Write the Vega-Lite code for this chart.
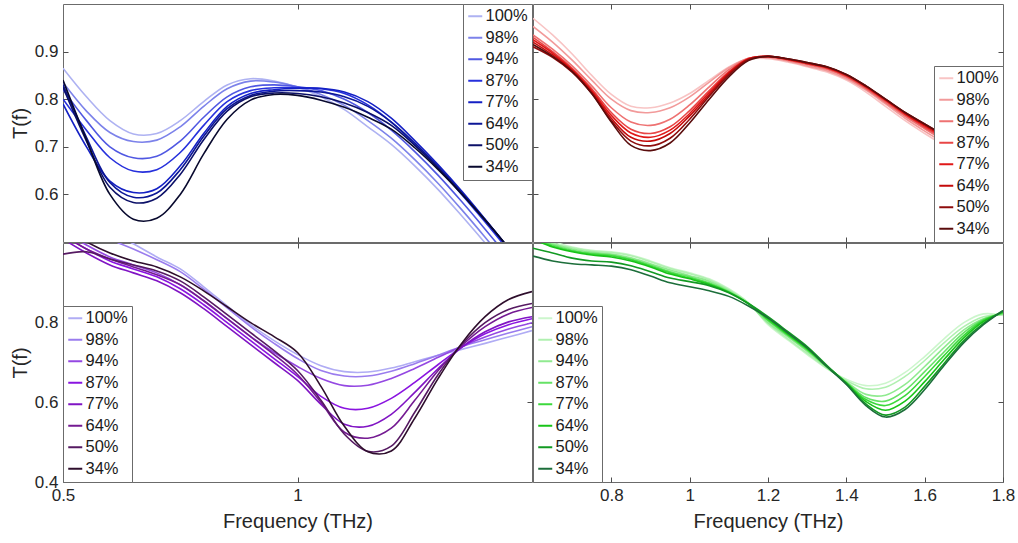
{
"$schema": "https://vega.github.io/schema/vega-lite/v6.json",
"background": "white",
"padding": {"left": 9, "top": 3, "right": 5, "bottom": 5},
"datasets": {
"blue": [
{"s":"100%","f":0.5,"t":0.865},{"s":"100%","f":0.55,"t":0.805},{"s":"100%","f":0.6,"t":0.755},{"s":"100%","f":0.65,"t":0.727},{"s":"100%","f":0.7,"t":0.728},{"s":"100%","f":0.75,"t":0.755},{"s":"100%","f":0.8,"t":0.795},{"s":"100%","f":0.85,"t":0.83},{"s":"100%","f":0.9,"t":0.843},{"s":"100%","f":0.95,"t":0.838},{"s":"100%","f":1,"t":0.825},{"s":"100%","f":1.05,"t":0.805},{"s":"100%","f":1.1,"t":0.778},{"s":"100%","f":1.15,"t":0.742},{"s":"100%","f":1.2,"t":0.705},{"s":"100%","f":1.25,"t":0.66},{"s":"100%","f":1.3,"t":0.61},{"s":"100%","f":1.35,"t":0.555},{"s":"100%","f":1.4,"t":0.498},{"s":"100%","f":1.45,"t":0.44},{"s":"100%","f":1.5,"t":0.38},
{"s":"98%","f":0.5,"t":0.835},{"s":"98%","f":0.55,"t":0.775},{"s":"98%","f":0.6,"t":0.73},{"s":"98%","f":0.65,"t":0.711},{"s":"98%","f":0.7,"t":0.714},{"s":"98%","f":0.75,"t":0.742},{"s":"98%","f":0.8,"t":0.785},{"s":"98%","f":0.85,"t":0.822},{"s":"98%","f":0.9,"t":0.838},{"s":"98%","f":0.95,"t":0.836},{"s":"98%","f":1,"t":0.826},{"s":"98%","f":1.05,"t":0.81},{"s":"98%","f":1.1,"t":0.787},{"s":"98%","f":1.15,"t":0.755},{"s":"98%","f":1.2,"t":0.718},{"s":"98%","f":1.25,"t":0.673},{"s":"98%","f":1.3,"t":0.623},{"s":"98%","f":1.35,"t":0.568},{"s":"98%","f":1.4,"t":0.51},{"s":"98%","f":1.45,"t":0.45},{"s":"98%","f":1.5,"t":0.39},
{"s":"94%","f":0.5,"t":0.82},{"s":"94%","f":0.55,"t":0.755},{"s":"94%","f":0.6,"t":0.7},{"s":"94%","f":0.65,"t":0.677},{"s":"94%","f":0.7,"t":0.68},{"s":"94%","f":0.75,"t":0.712},{"s":"94%","f":0.8,"t":0.762},{"s":"94%","f":0.85,"t":0.805},{"s":"94%","f":0.9,"t":0.826},{"s":"94%","f":0.95,"t":0.83},{"s":"94%","f":1,"t":0.826},{"s":"94%","f":1.05,"t":0.818},{"s":"94%","f":1.1,"t":0.8},{"s":"94%","f":1.15,"t":0.772},{"s":"94%","f":1.2,"t":0.735},{"s":"94%","f":1.25,"t":0.69},{"s":"94%","f":1.3,"t":0.64},{"s":"94%","f":1.35,"t":0.585},{"s":"94%","f":1.4,"t":0.527},{"s":"94%","f":1.45,"t":0.467},{"s":"94%","f":1.5,"t":0.405},
{"s":"87%","f":0.5,"t":0.8},{"s":"87%","f":0.55,"t":0.735},{"s":"87%","f":0.6,"t":0.677},{"s":"87%","f":0.65,"t":0.649},{"s":"87%","f":0.7,"t":0.652},{"s":"87%","f":0.75,"t":0.688},{"s":"87%","f":0.8,"t":0.745},{"s":"87%","f":0.85,"t":0.795},{"s":"87%","f":0.9,"t":0.818},{"s":"87%","f":0.95,"t":0.824},{"s":"87%","f":1,"t":0.824},{"s":"87%","f":1.05,"t":0.822},{"s":"87%","f":1.1,"t":0.812},{"s":"87%","f":1.15,"t":0.788},{"s":"87%","f":1.2,"t":0.752},{"s":"87%","f":1.25,"t":0.705},{"s":"87%","f":1.3,"t":0.655},{"s":"87%","f":1.35,"t":0.6},{"s":"87%","f":1.4,"t":0.542},{"s":"87%","f":1.45,"t":0.482},{"s":"87%","f":1.5,"t":0.42},
{"s":"77%","f":0.5,"t":0.79},{"s":"77%","f":0.55,"t":0.7},{"s":"77%","f":0.6,"t":0.628},{"s":"77%","f":0.65,"t":0.604},{"s":"77%","f":0.7,"t":0.612},{"s":"77%","f":0.75,"t":0.66},{"s":"77%","f":0.8,"t":0.728},{"s":"77%","f":0.85,"t":0.785},{"s":"77%","f":0.9,"t":0.812},{"s":"77%","f":0.95,"t":0.82},{"s":"77%","f":1,"t":0.823},{"s":"77%","f":1.05,"t":0.823},{"s":"77%","f":1.1,"t":0.815},{"s":"77%","f":1.15,"t":0.795},{"s":"77%","f":1.2,"t":0.76},{"s":"77%","f":1.25,"t":0.713},{"s":"77%","f":1.3,"t":0.662},{"s":"77%","f":1.35,"t":0.607},{"s":"77%","f":1.4,"t":0.548},{"s":"77%","f":1.45,"t":0.487},{"s":"77%","f":1.5,"t":0.425},
{"s":"64%","f":0.5,"t":0.83},{"s":"64%","f":0.55,"t":0.72},{"s":"64%","f":0.6,"t":0.625},{"s":"64%","f":0.65,"t":0.594},{"s":"64%","f":0.7,"t":0.603},{"s":"64%","f":0.75,"t":0.652},{"s":"64%","f":0.8,"t":0.722},{"s":"64%","f":0.85,"t":0.78},{"s":"64%","f":0.9,"t":0.808},{"s":"64%","f":0.95,"t":0.817},{"s":"64%","f":1,"t":0.818},{"s":"64%","f":1.05,"t":0.815},{"s":"64%","f":1.1,"t":0.805},{"s":"64%","f":1.15,"t":0.785},{"s":"64%","f":1.2,"t":0.752},{"s":"64%","f":1.25,"t":0.708},{"s":"64%","f":1.3,"t":0.658},{"s":"64%","f":1.35,"t":0.604},{"s":"64%","f":1.4,"t":0.547},{"s":"64%","f":1.45,"t":0.487},{"s":"64%","f":1.5,"t":0.425},
{"s":"50%","f":0.5,"t":0.825},{"s":"50%","f":0.55,"t":0.712},{"s":"50%","f":0.6,"t":0.615},{"s":"50%","f":0.65,"t":0.583},{"s":"50%","f":0.7,"t":0.592},{"s":"50%","f":0.75,"t":0.642},{"s":"50%","f":0.8,"t":0.715},{"s":"50%","f":0.85,"t":0.775},{"s":"50%","f":0.9,"t":0.805},{"s":"50%","f":0.95,"t":0.813},{"s":"50%","f":1,"t":0.812},{"s":"50%","f":1.05,"t":0.805},{"s":"50%","f":1.1,"t":0.792},{"s":"50%","f":1.15,"t":0.772},{"s":"50%","f":1.2,"t":0.745},{"s":"50%","f":1.25,"t":0.703},{"s":"50%","f":1.3,"t":0.655},{"s":"50%","f":1.35,"t":0.602},{"s":"50%","f":1.4,"t":0.546},{"s":"50%","f":1.45,"t":0.487},{"s":"50%","f":1.5,"t":0.425},
{"s":"34%","f":0.5,"t":0.84},{"s":"34%","f":0.55,"t":0.715},{"s":"34%","f":0.6,"t":0.6},{"s":"34%","f":0.65,"t":0.548},{"s":"34%","f":0.7,"t":0.55},{"s":"34%","f":0.75,"t":0.6},{"s":"34%","f":0.8,"t":0.685},{"s":"34%","f":0.85,"t":0.758},{"s":"34%","f":0.9,"t":0.798},{"s":"34%","f":0.95,"t":0.81},{"s":"34%","f":1,"t":0.808},{"s":"34%","f":1.05,"t":0.798},{"s":"34%","f":1.1,"t":0.783},{"s":"34%","f":1.15,"t":0.762},{"s":"34%","f":1.2,"t":0.737},{"s":"34%","f":1.25,"t":0.698},{"s":"34%","f":1.3,"t":0.652},{"s":"34%","f":1.35,"t":0.601},{"s":"34%","f":1.4,"t":0.546},{"s":"34%","f":1.45,"t":0.488},{"s":"34%","f":1.5,"t":0.427}
],
"red": [
{"s":"100%","f":0.6,"t":0.97},{"s":"100%","f":0.65,"t":0.935},{"s":"100%","f":0.7,"t":0.895},{"s":"100%","f":0.75,"t":0.85},{"s":"100%","f":0.8,"t":0.81},{"s":"100%","f":0.85,"t":0.785},{"s":"100%","f":0.9,"t":0.782},{"s":"100%","f":0.95,"t":0.792},{"s":"100%","f":1,"t":0.812},{"s":"100%","f":1.05,"t":0.84},{"s":"100%","f":1.1,"t":0.868},{"s":"100%","f":1.15,"t":0.885},{"s":"100%","f":1.2,"t":0.885},{"s":"100%","f":1.25,"t":0.878},{"s":"100%","f":1.3,"t":0.868},{"s":"100%","f":1.35,"t":0.857},{"s":"100%","f":1.4,"t":0.84},{"s":"100%","f":1.45,"t":0.815},{"s":"100%","f":1.5,"t":0.785},{"s":"100%","f":1.55,"t":0.755},{"s":"100%","f":1.6,"t":0.728},{"s":"100%","f":1.65,"t":0.703},{"s":"100%","f":1.7,"t":0.68},{"s":"100%","f":1.75,"t":0.655},{"s":"100%","f":1.8,"t":0.63},
{"s":"98%","f":0.6,"t":0.953},{"s":"98%","f":0.65,"t":0.92},{"s":"98%","f":0.7,"t":0.882},{"s":"98%","f":0.75,"t":0.84},{"s":"98%","f":0.8,"t":0.8},{"s":"98%","f":0.85,"t":0.776},{"s":"98%","f":0.9,"t":0.772},{"s":"98%","f":0.95,"t":0.782},{"s":"98%","f":1,"t":0.805},{"s":"98%","f":1.05,"t":0.836},{"s":"98%","f":1.1,"t":0.866},{"s":"98%","f":1.15,"t":0.886},{"s":"98%","f":1.2,"t":0.887},{"s":"98%","f":1.25,"t":0.88},{"s":"98%","f":1.3,"t":0.87},{"s":"98%","f":1.35,"t":0.86},{"s":"98%","f":1.4,"t":0.843},{"s":"98%","f":1.45,"t":0.819},{"s":"98%","f":1.5,"t":0.79},{"s":"98%","f":1.55,"t":0.76},{"s":"98%","f":1.6,"t":0.733},{"s":"98%","f":1.65,"t":0.708},{"s":"98%","f":1.7,"t":0.684},{"s":"98%","f":1.75,"t":0.66},{"s":"98%","f":1.8,"t":0.635},
{"s":"94%","f":0.6,"t":0.935},{"s":"94%","f":0.65,"t":0.905},{"s":"94%","f":0.7,"t":0.87},{"s":"94%","f":0.75,"t":0.828},{"s":"94%","f":0.8,"t":0.782},{"s":"94%","f":0.85,"t":0.752},{"s":"94%","f":0.9,"t":0.745},{"s":"94%","f":0.95,"t":0.758},{"s":"94%","f":1,"t":0.788},{"s":"94%","f":1.05,"t":0.826},{"s":"94%","f":1.1,"t":0.862},{"s":"94%","f":1.15,"t":0.886},{"s":"94%","f":1.2,"t":0.889},{"s":"94%","f":1.25,"t":0.882},{"s":"94%","f":1.3,"t":0.873},{"s":"94%","f":1.35,"t":0.863},{"s":"94%","f":1.4,"t":0.846},{"s":"94%","f":1.45,"t":0.822},{"s":"94%","f":1.5,"t":0.793},{"s":"94%","f":1.55,"t":0.764},{"s":"94%","f":1.6,"t":0.738},{"s":"94%","f":1.65,"t":0.713},{"s":"94%","f":1.7,"t":0.689},{"s":"94%","f":1.75,"t":0.664},{"s":"94%","f":1.8,"t":0.639},
{"s":"87%","f":0.6,"t":0.93},{"s":"87%","f":0.65,"t":0.9},{"s":"87%","f":0.7,"t":0.865},{"s":"87%","f":0.75,"t":0.822},{"s":"87%","f":0.8,"t":0.772},{"s":"87%","f":0.85,"t":0.737},{"s":"87%","f":0.9,"t":0.728},{"s":"87%","f":0.95,"t":0.742},{"s":"87%","f":1,"t":0.776},{"s":"87%","f":1.05,"t":0.818},{"s":"87%","f":1.1,"t":0.858},{"s":"87%","f":1.15,"t":0.885},{"s":"87%","f":1.2,"t":0.89},{"s":"87%","f":1.25,"t":0.883},{"s":"87%","f":1.3,"t":0.874},{"s":"87%","f":1.35,"t":0.865},{"s":"87%","f":1.4,"t":0.848},{"s":"87%","f":1.45,"t":0.824},{"s":"87%","f":1.5,"t":0.796},{"s":"87%","f":1.55,"t":0.767},{"s":"87%","f":1.6,"t":0.741},{"s":"87%","f":1.65,"t":0.717},{"s":"87%","f":1.7,"t":0.693},{"s":"87%","f":1.75,"t":0.668},{"s":"87%","f":1.8,"t":0.643},
{"s":"77%","f":0.6,"t":0.925},{"s":"77%","f":0.65,"t":0.897},{"s":"77%","f":0.7,"t":0.862},{"s":"77%","f":0.75,"t":0.818},{"s":"77%","f":0.8,"t":0.766},{"s":"77%","f":0.85,"t":0.729},{"s":"77%","f":0.9,"t":0.72},{"s":"77%","f":0.95,"t":0.735},{"s":"77%","f":1,"t":0.77},{"s":"77%","f":1.05,"t":0.814},{"s":"77%","f":1.1,"t":0.856},{"s":"77%","f":1.15,"t":0.885},{"s":"77%","f":1.2,"t":0.89},{"s":"77%","f":1.25,"t":0.884},{"s":"77%","f":1.3,"t":0.875},{"s":"77%","f":1.35,"t":0.866},{"s":"77%","f":1.4,"t":0.85},{"s":"77%","f":1.45,"t":0.826},{"s":"77%","f":1.5,"t":0.798},{"s":"77%","f":1.55,"t":0.769},{"s":"77%","f":1.6,"t":0.744},{"s":"77%","f":1.65,"t":0.72},{"s":"77%","f":1.7,"t":0.696},{"s":"77%","f":1.75,"t":0.671},{"s":"77%","f":1.8,"t":0.646},
{"s":"64%","f":0.6,"t":0.92},{"s":"64%","f":0.65,"t":0.893},{"s":"64%","f":0.7,"t":0.86},{"s":"64%","f":0.75,"t":0.815},{"s":"64%","f":0.8,"t":0.76},{"s":"64%","f":0.85,"t":0.72},{"s":"64%","f":0.9,"t":0.712},{"s":"64%","f":0.95,"t":0.728},{"s":"64%","f":1,"t":0.765},{"s":"64%","f":1.05,"t":0.81},{"s":"64%","f":1.1,"t":0.854},{"s":"64%","f":1.15,"t":0.884},{"s":"64%","f":1.2,"t":0.89},{"s":"64%","f":1.25,"t":0.884},{"s":"64%","f":1.3,"t":0.876},{"s":"64%","f":1.35,"t":0.867},{"s":"64%","f":1.4,"t":0.851},{"s":"64%","f":1.45,"t":0.827},{"s":"64%","f":1.5,"t":0.799},{"s":"64%","f":1.55,"t":0.771},{"s":"64%","f":1.6,"t":0.746},{"s":"64%","f":1.65,"t":0.722},{"s":"64%","f":1.7,"t":0.698},{"s":"64%","f":1.75,"t":0.673},{"s":"64%","f":1.8,"t":0.648},
{"s":"50%","f":0.6,"t":0.91},{"s":"50%","f":0.65,"t":0.888},{"s":"50%","f":0.7,"t":0.857},{"s":"50%","f":0.75,"t":0.812},{"s":"50%","f":0.8,"t":0.755},{"s":"50%","f":0.85,"t":0.712},{"s":"50%","f":0.9,"t":0.702},{"s":"50%","f":0.95,"t":0.718},{"s":"50%","f":1,"t":0.758},{"s":"50%","f":1.05,"t":0.806},{"s":"50%","f":1.1,"t":0.851},{"s":"50%","f":1.15,"t":0.883},{"s":"50%","f":1.2,"t":0.89},{"s":"50%","f":1.25,"t":0.885},{"s":"50%","f":1.3,"t":0.877},{"s":"50%","f":1.35,"t":0.868},{"s":"50%","f":1.4,"t":0.852},{"s":"50%","f":1.45,"t":0.828},{"s":"50%","f":1.5,"t":0.8},{"s":"50%","f":1.55,"t":0.772},{"s":"50%","f":1.6,"t":0.748},{"s":"50%","f":1.65,"t":0.724},{"s":"50%","f":1.7,"t":0.7},{"s":"50%","f":1.75,"t":0.675},{"s":"50%","f":1.8,"t":0.65},
{"s":"34%","f":0.6,"t":0.915},{"s":"34%","f":0.65,"t":0.89},{"s":"34%","f":0.7,"t":0.858},{"s":"34%","f":0.75,"t":0.812},{"s":"34%","f":0.8,"t":0.752},{"s":"34%","f":0.85,"t":0.703},{"s":"34%","f":0.9,"t":0.692},{"s":"34%","f":0.95,"t":0.708},{"s":"34%","f":1,"t":0.75},{"s":"34%","f":1.05,"t":0.8},{"s":"34%","f":1.1,"t":0.847},{"s":"34%","f":1.15,"t":0.881},{"s":"34%","f":1.2,"t":0.89},{"s":"34%","f":1.25,"t":0.885},{"s":"34%","f":1.3,"t":0.877},{"s":"34%","f":1.35,"t":0.868},{"s":"34%","f":1.4,"t":0.852},{"s":"34%","f":1.45,"t":0.828},{"s":"34%","f":1.5,"t":0.8},{"s":"34%","f":1.55,"t":0.772},{"s":"34%","f":1.6,"t":0.748},{"s":"34%","f":1.65,"t":0.724},{"s":"34%","f":1.7,"t":0.7},{"s":"34%","f":1.75,"t":0.675},{"s":"34%","f":1.8,"t":0.65}
],
"purple": [
{"s":"100%","f":0.5,"t":1.1},{"s":"100%","f":0.55,"t":1.06},{"s":"100%","f":0.6,"t":1.03},{"s":"100%","f":0.65,"t":0.998},{"s":"100%","f":0.7,"t":0.965},{"s":"100%","f":0.75,"t":0.935},{"s":"100%","f":0.8,"t":0.89},{"s":"100%","f":0.85,"t":0.842},{"s":"100%","f":0.9,"t":0.795},{"s":"100%","f":0.95,"t":0.755},{"s":"100%","f":1,"t":0.72},{"s":"100%","f":1.05,"t":0.692},{"s":"100%","f":1.1,"t":0.677},{"s":"100%","f":1.15,"t":0.676},{"s":"100%","f":1.2,"t":0.686},{"s":"100%","f":1.25,"t":0.702},{"s":"100%","f":1.3,"t":0.718},{"s":"100%","f":1.35,"t":0.733},{"s":"100%","f":1.4,"t":0.748},{"s":"100%","f":1.45,"t":0.764},{"s":"100%","f":1.5,"t":0.78},
{"s":"98%","f":0.5,"t":1.08},{"s":"98%","f":0.55,"t":1.045},{"s":"98%","f":0.6,"t":1.01},{"s":"98%","f":0.65,"t":0.985},{"s":"98%","f":0.7,"t":0.958},{"s":"98%","f":0.75,"t":0.928},{"s":"98%","f":0.8,"t":0.884},{"s":"98%","f":0.85,"t":0.837},{"s":"98%","f":0.9,"t":0.79},{"s":"98%","f":0.95,"t":0.748},{"s":"98%","f":1,"t":0.71},{"s":"98%","f":1.05,"t":0.68},{"s":"98%","f":1.1,"t":0.666},{"s":"98%","f":1.15,"t":0.666},{"s":"98%","f":1.2,"t":0.678},{"s":"98%","f":1.25,"t":0.697},{"s":"98%","f":1.3,"t":0.718},{"s":"98%","f":1.35,"t":0.74},{"s":"98%","f":1.4,"t":0.757},{"s":"98%","f":1.45,"t":0.774},{"s":"98%","f":1.5,"t":0.79},
{"s":"94%","f":0.5,"t":1.03},{"s":"94%","f":0.55,"t":0.995},{"s":"94%","f":0.6,"t":0.965},{"s":"94%","f":0.65,"t":0.945},{"s":"94%","f":0.7,"t":0.925},{"s":"94%","f":0.75,"t":0.895},{"s":"94%","f":0.8,"t":0.855},{"s":"94%","f":0.85,"t":0.81},{"s":"94%","f":0.9,"t":0.765},{"s":"94%","f":0.95,"t":0.725},{"s":"94%","f":1,"t":0.69},{"s":"94%","f":1.05,"t":0.66},{"s":"94%","f":1.1,"t":0.642},{"s":"94%","f":1.15,"t":0.643},{"s":"94%","f":1.2,"t":0.66},{"s":"94%","f":1.25,"t":0.685},{"s":"94%","f":1.3,"t":0.713},{"s":"94%","f":1.35,"t":0.74},{"s":"94%","f":1.4,"t":0.764},{"s":"94%","f":1.45,"t":0.784},{"s":"94%","f":1.5,"t":0.8},
{"s":"87%","f":0.5,"t":1.02},{"s":"87%","f":0.55,"t":0.985},{"s":"87%","f":0.6,"t":0.955},{"s":"87%","f":0.65,"t":0.935},{"s":"87%","f":0.7,"t":0.915},{"s":"87%","f":0.75,"t":0.885},{"s":"87%","f":0.8,"t":0.845},{"s":"87%","f":0.85,"t":0.8},{"s":"87%","f":0.9,"t":0.755},{"s":"87%","f":0.95,"t":0.71},{"s":"87%","f":1,"t":0.665},{"s":"87%","f":1.05,"t":0.615},{"s":"87%","f":1.1,"t":0.585},{"s":"87%","f":1.15,"t":0.585},{"s":"87%","f":1.2,"t":0.61},{"s":"87%","f":1.25,"t":0.65},{"s":"87%","f":1.3,"t":0.695},{"s":"87%","f":1.35,"t":0.738},{"s":"87%","f":1.4,"t":0.772},{"s":"87%","f":1.45,"t":0.795},{"s":"87%","f":1.5,"t":0.81},
{"s":"77%","f":0.5,"t":1.01},{"s":"77%","f":0.55,"t":0.975},{"s":"77%","f":0.6,"t":0.945},{"s":"77%","f":0.65,"t":0.925},{"s":"77%","f":0.7,"t":0.905},{"s":"77%","f":0.75,"t":0.875},{"s":"77%","f":0.8,"t":0.835},{"s":"77%","f":0.85,"t":0.79},{"s":"77%","f":0.9,"t":0.745},{"s":"77%","f":0.95,"t":0.7},{"s":"77%","f":1,"t":0.655},{"s":"77%","f":1.05,"t":0.595},{"s":"77%","f":1.1,"t":0.545},{"s":"77%","f":1.15,"t":0.54},{"s":"77%","f":1.2,"t":0.57},{"s":"77%","f":1.25,"t":0.625},{"s":"77%","f":1.3,"t":0.685},{"s":"77%","f":1.35,"t":0.738},{"s":"77%","f":1.4,"t":0.777},{"s":"77%","f":1.45,"t":0.802},{"s":"77%","f":1.5,"t":0.815},
{"s":"64%","f":0.5,"t":1.02},{"s":"64%","f":0.55,"t":0.985},{"s":"64%","f":0.6,"t":0.96},{"s":"64%","f":0.65,"t":0.94},{"s":"64%","f":0.7,"t":0.92},{"s":"64%","f":0.75,"t":0.895},{"s":"64%","f":0.8,"t":0.855},{"s":"64%","f":0.85,"t":0.81},{"s":"64%","f":0.9,"t":0.765},{"s":"64%","f":0.95,"t":0.72},{"s":"64%","f":1,"t":0.67},{"s":"64%","f":1.05,"t":0.6},{"s":"64%","f":1.1,"t":0.525},{"s":"64%","f":1.15,"t":0.51},{"s":"64%","f":1.2,"t":0.535},{"s":"64%","f":1.25,"t":0.605},{"s":"64%","f":1.3,"t":0.68},{"s":"64%","f":1.35,"t":0.742},{"s":"64%","f":1.4,"t":0.79},{"s":"64%","f":1.45,"t":0.822},{"s":"64%","f":1.5,"t":0.838},
{"s":"50%","f":0.5,"t":0.972},{"s":"50%","f":0.55,"t":0.978},{"s":"50%","f":0.6,"t":0.96},{"s":"50%","f":0.65,"t":0.945},{"s":"50%","f":0.7,"t":0.93},{"s":"50%","f":0.75,"t":0.905},{"s":"50%","f":0.8,"t":0.865},{"s":"50%","f":0.85,"t":0.82},{"s":"50%","f":0.9,"t":0.775},{"s":"50%","f":0.95,"t":0.73},{"s":"50%","f":1,"t":0.68},{"s":"50%","f":1.05,"t":0.605},{"s":"50%","f":1.1,"t":0.52},{"s":"50%","f":1.15,"t":0.477},{"s":"50%","f":1.2,"t":0.49},{"s":"50%","f":1.25,"t":0.575},{"s":"50%","f":1.3,"t":0.67},{"s":"50%","f":1.35,"t":0.745},{"s":"50%","f":1.4,"t":0.8},{"s":"50%","f":1.45,"t":0.833},{"s":"50%","f":1.5,"t":0.848},
{"s":"34%","f":0.5,"t":1.04},{"s":"34%","f":0.55,"t":1.003},{"s":"34%","f":0.6,"t":0.975},{"s":"34%","f":0.65,"t":0.955},{"s":"34%","f":0.7,"t":0.94},{"s":"34%","f":0.75,"t":0.915},{"s":"34%","f":0.8,"t":0.88},{"s":"34%","f":0.85,"t":0.84},{"s":"34%","f":0.9,"t":0.8},{"s":"34%","f":0.95,"t":0.765},{"s":"34%","f":1,"t":0.725},{"s":"34%","f":1.05,"t":0.64},{"s":"34%","f":1.1,"t":0.54},{"s":"34%","f":1.15,"t":0.476},{"s":"34%","f":1.2,"t":0.478},{"s":"34%","f":1.25,"t":0.56},{"s":"34%","f":1.3,"t":0.66},{"s":"34%","f":1.35,"t":0.748},{"s":"34%","f":1.4,"t":0.815},{"s":"34%","f":1.45,"t":0.858},{"s":"34%","f":1.5,"t":0.878}
],
"green": [
{"s":"100%","f":0.6,"t":1.03},{"s":"100%","f":0.65,"t":1.005},{"s":"100%","f":0.7,"t":0.99},{"s":"100%","f":0.75,"t":0.982},{"s":"100%","f":0.8,"t":0.978},{"s":"100%","f":0.85,"t":0.97},{"s":"100%","f":0.9,"t":0.955},{"s":"100%","f":0.95,"t":0.938},{"s":"100%","f":1,"t":0.925},{"s":"100%","f":1.05,"t":0.91},{"s":"100%","f":1.1,"t":0.885},{"s":"100%","f":1.15,"t":0.85},{"s":"100%","f":1.2,"t":0.795},{"s":"100%","f":1.25,"t":0.757},{"s":"100%","f":1.3,"t":0.72},{"s":"100%","f":1.35,"t":0.685},{"s":"100%","f":1.4,"t":0.658},{"s":"100%","f":1.45,"t":0.642},{"s":"100%","f":1.5,"t":0.648},{"s":"100%","f":1.55,"t":0.675},{"s":"100%","f":1.6,"t":0.715},{"s":"100%","f":1.65,"t":0.76},{"s":"100%","f":1.7,"t":0.8},{"s":"100%","f":1.75,"t":0.822},{"s":"100%","f":1.8,"t":0.818},
{"s":"98%","f":0.6,"t":1.025},{"s":"98%","f":0.65,"t":1.0},{"s":"98%","f":0.7,"t":0.988},{"s":"98%","f":0.75,"t":0.98},{"s":"98%","f":0.8,"t":0.976},{"s":"98%","f":0.85,"t":0.968},{"s":"98%","f":0.9,"t":0.953},{"s":"98%","f":0.95,"t":0.936},{"s":"98%","f":1,"t":0.923},{"s":"98%","f":1.05,"t":0.908},{"s":"98%","f":1.1,"t":0.883},{"s":"98%","f":1.15,"t":0.85},{"s":"98%","f":1.2,"t":0.798},{"s":"98%","f":1.25,"t":0.76},{"s":"98%","f":1.3,"t":0.723},{"s":"98%","f":1.35,"t":0.686},{"s":"98%","f":1.4,"t":0.655},{"s":"98%","f":1.45,"t":0.634},{"s":"98%","f":1.5,"t":0.638},{"s":"98%","f":1.55,"t":0.665},{"s":"98%","f":1.6,"t":0.705},{"s":"98%","f":1.65,"t":0.75},{"s":"98%","f":1.7,"t":0.79},{"s":"98%","f":1.75,"t":0.815},{"s":"98%","f":1.8,"t":0.82},
{"s":"94%","f":0.6,"t":1.02},{"s":"94%","f":0.65,"t":0.998},{"s":"94%","f":0.7,"t":0.985},{"s":"94%","f":0.75,"t":0.977},{"s":"94%","f":0.8,"t":0.972},{"s":"94%","f":0.85,"t":0.963},{"s":"94%","f":0.9,"t":0.948},{"s":"94%","f":0.95,"t":0.932},{"s":"94%","f":1,"t":0.918},{"s":"94%","f":1.05,"t":0.904},{"s":"94%","f":1.1,"t":0.88},{"s":"94%","f":1.15,"t":0.848},{"s":"94%","f":1.2,"t":0.8},{"s":"94%","f":1.25,"t":0.765},{"s":"94%","f":1.3,"t":0.728},{"s":"94%","f":1.35,"t":0.688},{"s":"94%","f":1.4,"t":0.652},{"s":"94%","f":1.45,"t":0.62},{"s":"94%","f":1.5,"t":0.618},{"s":"94%","f":1.55,"t":0.645},{"s":"94%","f":1.6,"t":0.69},{"s":"94%","f":1.65,"t":0.738},{"s":"94%","f":1.7,"t":0.782},{"s":"94%","f":1.75,"t":0.81},{"s":"94%","f":1.8,"t":0.822},
{"s":"87%","f":0.6,"t":1.015},{"s":"87%","f":0.65,"t":0.995},{"s":"87%","f":0.7,"t":0.982},{"s":"87%","f":0.75,"t":0.974},{"s":"87%","f":0.8,"t":0.97},{"s":"87%","f":0.85,"t":0.96},{"s":"87%","f":0.9,"t":0.945},{"s":"87%","f":0.95,"t":0.928},{"s":"87%","f":1,"t":0.915},{"s":"87%","f":1.05,"t":0.9},{"s":"87%","f":1.1,"t":0.878},{"s":"87%","f":1.15,"t":0.848},{"s":"87%","f":1.2,"t":0.805},{"s":"87%","f":1.25,"t":0.768},{"s":"87%","f":1.3,"t":0.731},{"s":"87%","f":1.35,"t":0.689},{"s":"87%","f":1.4,"t":0.65},{"s":"87%","f":1.45,"t":0.612},{"s":"87%","f":1.5,"t":0.603},{"s":"87%","f":1.55,"t":0.63},{"s":"87%","f":1.6,"t":0.677},{"s":"87%","f":1.65,"t":0.727},{"s":"87%","f":1.7,"t":0.775},{"s":"87%","f":1.75,"t":0.808},{"s":"87%","f":1.8,"t":0.823},
{"s":"77%","f":0.6,"t":1.012},{"s":"77%","f":0.65,"t":0.992},{"s":"77%","f":0.7,"t":0.98},{"s":"77%","f":0.75,"t":0.972},{"s":"77%","f":0.8,"t":0.968},{"s":"77%","f":0.85,"t":0.958},{"s":"77%","f":0.9,"t":0.942},{"s":"77%","f":0.95,"t":0.925},{"s":"77%","f":1,"t":0.912},{"s":"77%","f":1.05,"t":0.898},{"s":"77%","f":1.1,"t":0.877},{"s":"77%","f":1.15,"t":0.848},{"s":"77%","f":1.2,"t":0.807},{"s":"77%","f":1.25,"t":0.77},{"s":"77%","f":1.3,"t":0.733},{"s":"77%","f":1.35,"t":0.69},{"s":"77%","f":1.4,"t":0.649},{"s":"77%","f":1.45,"t":0.607},{"s":"77%","f":1.5,"t":0.592},{"s":"77%","f":1.55,"t":0.617},{"s":"77%","f":1.6,"t":0.665},{"s":"77%","f":1.65,"t":0.718},{"s":"77%","f":1.7,"t":0.768},{"s":"77%","f":1.75,"t":0.806},{"s":"77%","f":1.8,"t":0.825},
{"s":"64%","f":0.6,"t":1.01},{"s":"64%","f":0.65,"t":0.99},{"s":"64%","f":0.7,"t":0.978},{"s":"64%","f":0.75,"t":0.97},{"s":"64%","f":0.8,"t":0.965},{"s":"64%","f":0.85,"t":0.955},{"s":"64%","f":0.9,"t":0.94},{"s":"64%","f":0.95,"t":0.922},{"s":"64%","f":1,"t":0.91},{"s":"64%","f":1.05,"t":0.896},{"s":"64%","f":1.1,"t":0.876},{"s":"64%","f":1.15,"t":0.848},{"s":"64%","f":1.2,"t":0.81},{"s":"64%","f":1.25,"t":0.772},{"s":"64%","f":1.3,"t":0.735},{"s":"64%","f":1.35,"t":0.691},{"s":"64%","f":1.4,"t":0.648},{"s":"64%","f":1.45,"t":0.602},{"s":"64%","f":1.5,"t":0.58},{"s":"64%","f":1.55,"t":0.603},{"s":"64%","f":1.6,"t":0.652},{"s":"64%","f":1.65,"t":0.708},{"s":"64%","f":1.7,"t":0.762},{"s":"64%","f":1.75,"t":0.803},{"s":"64%","f":1.8,"t":0.827},
{"s":"50%","f":0.6,"t":0.987},{"s":"50%","f":0.65,"t":0.975},{"s":"50%","f":0.7,"t":0.962},{"s":"50%","f":0.75,"t":0.955},{"s":"50%","f":0.8,"t":0.952},{"s":"50%","f":0.85,"t":0.943},{"s":"50%","f":0.9,"t":0.928},{"s":"50%","f":0.95,"t":0.912},{"s":"50%","f":1,"t":0.903},{"s":"50%","f":1.05,"t":0.893},{"s":"50%","f":1.1,"t":0.875},{"s":"50%","f":1.15,"t":0.848},{"s":"50%","f":1.2,"t":0.815},{"s":"50%","f":1.25,"t":0.778},{"s":"50%","f":1.3,"t":0.74},{"s":"50%","f":1.35,"t":0.693},{"s":"50%","f":1.4,"t":0.647},{"s":"50%","f":1.45,"t":0.596},{"s":"50%","f":1.5,"t":0.568},{"s":"50%","f":1.55,"t":0.588},{"s":"50%","f":1.6,"t":0.64},{"s":"50%","f":1.65,"t":0.698},{"s":"50%","f":1.7,"t":0.755},{"s":"50%","f":1.75,"t":0.798},{"s":"50%","f":1.8,"t":0.83},
{"s":"34%","f":0.6,"t":0.967},{"s":"34%","f":0.65,"t":0.955},{"s":"34%","f":0.7,"t":0.948},{"s":"34%","f":0.75,"t":0.945},{"s":"34%","f":0.8,"t":0.942},{"s":"34%","f":0.85,"t":0.933},{"s":"34%","f":0.9,"t":0.917},{"s":"34%","f":0.95,"t":0.9},{"s":"34%","f":1,"t":0.89},{"s":"34%","f":1.05,"t":0.88},{"s":"34%","f":1.1,"t":0.866},{"s":"34%","f":1.15,"t":0.842},{"s":"34%","f":1.2,"t":0.812},{"s":"34%","f":1.25,"t":0.775},{"s":"34%","f":1.3,"t":0.737},{"s":"34%","f":1.35,"t":0.69},{"s":"34%","f":1.4,"t":0.645},{"s":"34%","f":1.45,"t":0.592},{"s":"34%","f":1.5,"t":0.563},{"s":"34%","f":1.55,"t":0.582},{"s":"34%","f":1.6,"t":0.632},{"s":"34%","f":1.65,"t":0.693},{"s":"34%","f":1.7,"t":0.75},{"s":"34%","f":1.75,"t":0.795},{"s":"34%","f":1.8,"t":0.83}
]
},
"columns": 2,
"spacing": 1,
"bounds": "flush",
"concat": [
{"width": 469, "height": 238, "data": {"name": "blue"},
 "layer": [
  {"mark": {"type": "line", "clip": true, "strokeWidth": 1.6, "interpolate": "catmull-rom"},
   "encoding": {
    "x": {"field": "f", "type": "quantitative", "scale": {"domain": [0.5, 1.5], "nice": false, "zero": false}, "axis": {"orient": "bottom", "values": [1], "labels": false, "title": null}},
    "y": {"field": "t", "type": "quantitative", "scale": {"domain": [0.5, 1.0], "nice": false, "zero": false}, "axis": {"orient": "left", "values": [0.6, 0.7, 0.8, 0.9], "format": "~g", "title": "T(f)"}},
    "color": {"field": "s", "type": "nominal", "scale": {"domain": ["100%","98%","94%","87%","77%","64%","50%","34%"], "range": ["#aeb2f2","#7c82ea","#5058e2","#2630dc","#1420c4","#0c1696","#0c1068","#08092e"]}, "legend": {"title": null, "orient": "top-right"}}
   }},
  {"mark": {"type": "point", "opacity": 0},
   "encoding": {
    "x": {"field": "f", "type": "quantitative", "scale": {"domain": [0.5, 1.5], "nice": false, "zero": false}, "axis": {"orient": "top", "values": [1], "labels": false, "title": null}},
    "y": {"field": "t", "type": "quantitative", "scale": {"domain": [0.5, 1.0], "nice": false, "zero": false}, "axis": {"orient": "right", "values": [0.6, 0.7, 0.8, 0.9], "labels": false, "title": null}}
   }}
 ],
 "resolve": {"axis": {"x": "independent", "y": "independent"}}
},
{"width": 470, "height": 238, "data": {"name": "red"},
 "layer": [
  {"mark": {"type": "line", "clip": true, "strokeWidth": 1.6, "interpolate": "catmull-rom"},
   "encoding": {
    "x": {"field": "f", "type": "quantitative", "scale": {"domain": [0.6, 1.8], "nice": false, "zero": false}, "axis": {"orient": "bottom", "values": [0.8, 1, 1.2, 1.4, 1.6], "labels": false, "title": null}},
    "y": {"field": "t", "type": "quantitative", "scale": {"domain": [0.5, 1.0], "nice": false, "zero": false}, "axis": {"orient": "left", "values": [0.6, 0.7, 0.8, 0.9], "labels": false, "title": null}},
    "color": {"field": "s", "type": "nominal", "scale": {"domain": ["100%","98%","94%","87%","77%","64%","50%","34%"], "range": ["#f8c4c4","#f29a9a","#ee7272","#e84646","#e01818","#c40a0a","#8e0c0c","#5a0c0c"]}, "legend": {"title": null, "orient": "bottom-right"}}
   }},
  {"mark": {"type": "point", "opacity": 0},
   "encoding": {
    "x": {"field": "f", "type": "quantitative", "scale": {"domain": [0.6, 1.8], "nice": false, "zero": false}, "axis": {"orient": "top", "values": [0.8, 1, 1.2, 1.4, 1.6], "labels": false, "title": null}},
    "y": {"field": "t", "type": "quantitative", "scale": {"domain": [0.5, 1.0], "nice": false, "zero": false}, "axis": {"orient": "right", "values": [0.6, 0.7, 0.8, 0.9], "labels": false, "title": null}}
   }}
 ],
 "resolve": {"axis": {"x": "independent", "y": "independent"}}
},
{"width": 469, "height": 239, "data": {"name": "purple"},
 "layer": [
  {"mark": {"type": "line", "clip": true, "strokeWidth": 1.6, "interpolate": "catmull-rom"},
   "encoding": {
    "x": {"field": "f", "type": "quantitative", "scale": {"domain": [0.5, 1.5], "nice": false, "zero": false}, "axis": {"orient": "bottom", "values": [0.5, 1], "format": "~g", "title": "Frequency (THz)"}},
    "y": {"field": "t", "type": "quantitative", "scale": {"domain": [0.4, 1.0], "nice": false, "zero": false}, "axis": {"orient": "left", "values": [0.4, 0.6, 0.8], "format": "~g", "title": "T(f)"}},
    "color": {"field": "s", "type": "nominal", "scale": {"domain": ["100%","98%","94%","87%","77%","64%","50%","34%"], "range": ["#b0acf4","#9a7cee","#9448e2","#8a14e0","#8014c4","#741a92","#561a62","#2e0e2c"]}, "legend": {"title": null, "orient": "bottom-left"}}
   }},
  {"mark": {"type": "point", "opacity": 0},
   "encoding": {
    "x": {"field": "f", "type": "quantitative", "scale": {"domain": [0.5, 1.5], "nice": false, "zero": false}, "axis": {"orient": "top", "values": [1], "labels": false, "title": null}},
    "y": {"field": "t", "type": "quantitative", "scale": {"domain": [0.4, 1.0], "nice": false, "zero": false}, "axis": {"orient": "right", "values": [0.6, 0.8], "labels": false, "title": null}}
   }}
 ],
 "resolve": {"axis": {"x": "independent", "y": "independent"}}
},
{"width": 470, "height": 239, "data": {"name": "green"},
 "layer": [
  {"mark": {"type": "line", "clip": true, "strokeWidth": 1.6, "interpolate": "catmull-rom"},
   "encoding": {
    "x": {"field": "f", "type": "quantitative", "scale": {"domain": [0.6, 1.8], "nice": false, "zero": false}, "axis": {"orient": "bottom", "values": [0.8, 1, 1.2, 1.4, 1.6, 1.8], "format": "~g", "title": "Frequency (THz)"}},
    "y": {"field": "t", "type": "quantitative", "scale": {"domain": [0.4, 1.0], "nice": false, "zero": false}, "axis": {"orient": "left", "values": [0.6, 0.8], "labels": false, "title": null}},
    "color": {"field": "s", "type": "nominal", "scale": {"domain": ["100%","98%","94%","87%","77%","64%","50%","34%"], "range": ["#ccf6cc","#b0f0b0","#90ea90","#66e266","#3cd83c","#18c418","#129a22","#1c6e3a"]}, "legend": {"title": null, "orient": "bottom-left"}}
   }},
  {"mark": {"type": "point", "opacity": 0},
   "encoding": {
    "x": {"field": "f", "type": "quantitative", "scale": {"domain": [0.6, 1.8], "nice": false, "zero": false}, "axis": {"orient": "top", "values": [0.8, 1, 1.2, 1.4, 1.6], "labels": false, "title": null}},
    "y": {"field": "t", "type": "quantitative", "scale": {"domain": [0.4, 1.0], "nice": false, "zero": false}, "axis": {"orient": "right", "values": [0.6, 0.8], "labels": false, "title": null}}
   }}
 ],
 "resolve": {"axis": {"x": "independent", "y": "independent"}}
}
],
"resolve": {"scale": {"color": "independent"}, "legend": {"color": "independent"}},
"config": {
 "view": {"stroke": "#6b6b6b", "strokeWidth": 1},
 "axis": {"domain": false, "grid": false, "tickSize": -5, "tickColor": "#4d4d4d", "tickWidth": 1, "labelFont": "Liberation Sans", "labelFontSize": 17, "labelColor": "#262626", "labelPadding": 10, "titleFont": "Liberation Sans", "titleFontSize": 20, "titleFontWeight": "normal", "titleColor": "#262626", "labelFlush": false, "labelOverlap": false},
 "axisY": {"titlePadding": 4},
 "axisX": {"titlePadding": 8},
 "legend": {"offset": 0, "symbolType": "stroke", "symbolSize": 196, "symbolStrokeWidth": 2, "labelFont": "Liberation Sans", "labelFontSize": 16.5, "labelColor": "#1a1a1a", "strokeColor": "#6b6b6b", "fillColor": "white", "padding": 4, "rowPadding": 4.5, "labelOffset": 2}
}
}
